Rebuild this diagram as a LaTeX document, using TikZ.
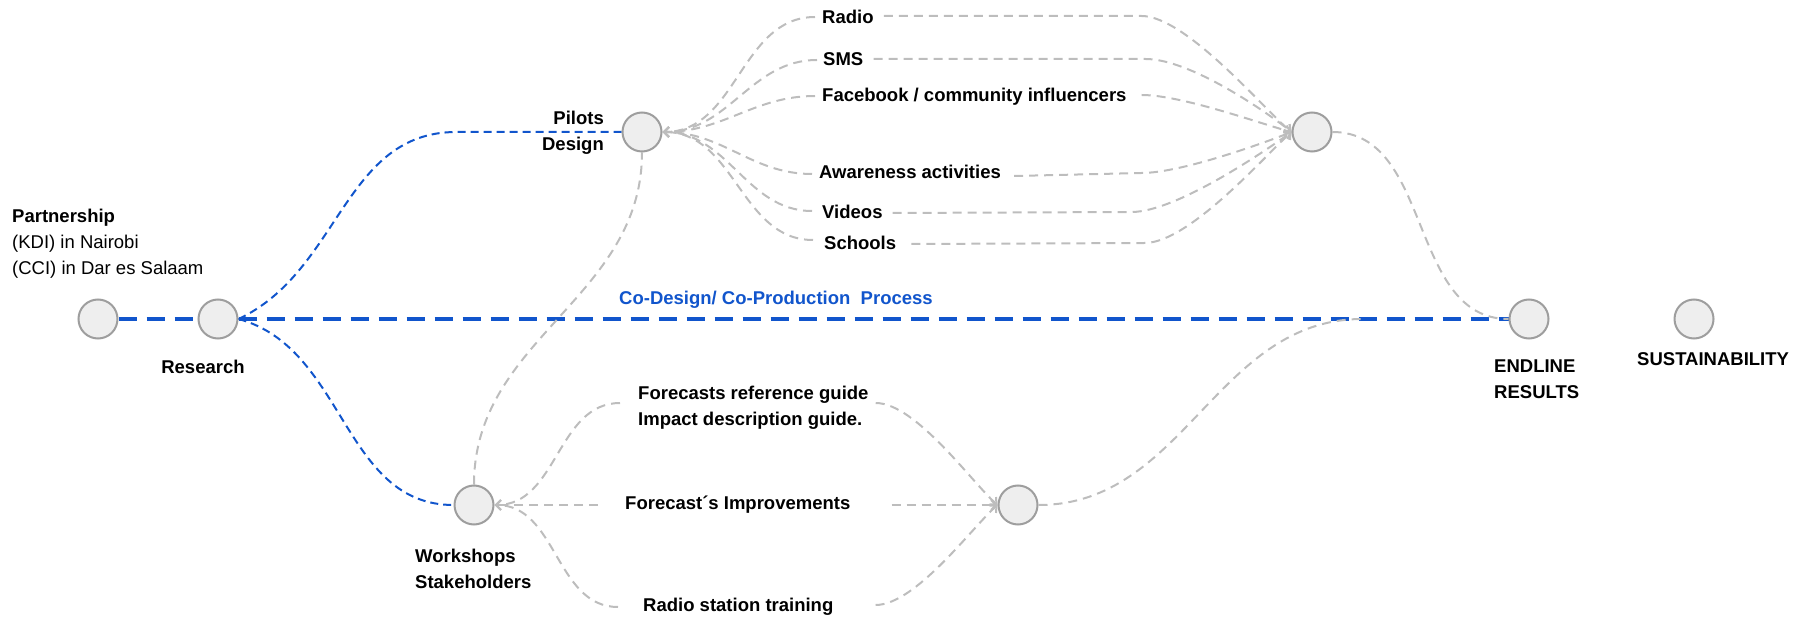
\documentclass[tikz,border=0pt]{standalone}
\usepackage{fontspec}
\setmainfont{Liberation Sans}
\usetikzlibrary{arrows.meta,calc,backgrounds}
\definecolor{gblue}{HTML}{1155CC}
\definecolor{lgray}{HTML}{BDBDBD}
\definecolor{cgray}{HTML}{9E9E9E}
\definecolor{cfill}{HTML}{EEEEEE}
\tikzset{
  stage/.style={circle, draw=cgray, fill=cfill, line width=2pt, minimum size=39pt, inner sep=0pt},
  lbl/.style={font=\fontsize{18.5}{26}\selectfont\bfseries, inner sep=0pt, text height=13.3pt, text depth=0pt},
  mlbl/.style={font=\fontsize{18.5}{26}\selectfont\bfseries, inner sep=0pt},
  gline/.style={draw=lgray, line width=2pt, dash pattern=on 9pt off 6pt},
  garrow/.style={gline, -{Straight Barb[length=5pt,width=10pt]}},
  bthick/.style={draw=gblue, line width=4pt, dash pattern=on 18pt off 10pt},
  bthin/.style={draw=gblue, line width=2pt, dash pattern=on 8pt off 5pt},
}
\begin{document}
\begin{tikzpicture}[x=1pt,y=-1pt]
\useasboundingbox (0,0) rectangle (1796,617);
% stages
\node[stage] (p0) at (98,319) {};
\node[stage] (rs) at (218,319) {};
\node[stage] (pd) at (642,132) {};
\node[stage] (tr) at (1312,132) {};
\node[stage] (ws) at (474,505) {};
\node[stage] (br) at (1018,505) {};
\node[stage] (en) at (1529,319) {};
\node[stage] (su) at (1694,319) {};
% stage labels
\node[anchor=north west, align=left, inner sep=0pt, font=\fontsize{18.5}{26}\selectfont] (part) at (12,209) {\textbf{Partnership}\\(KDI) in Nairobi\\(CCI) in Dar es Salaam};
\node[lbl] (resl) at (203,367) {Research};
\node[mlbl, anchor=north east, align=right] (pdl) at (604,111) {Pilots\\Design};
\node[mlbl, anchor=north west, align=left] (wsl) at (415,549) {Workshops\\Stakeholders};
\node[mlbl, anchor=north west, align=left] (enl) at (1494,360) {ENDLINE\\RESULTS};
\node[lbl, anchor=west] (sul) at (1637,359) {SUSTAINABILITY};
\node[lbl, anchor=west, text=gblue] (cod) at (619,298) {Co-Design/ Co-Production\ \ Process};
% activity labels
\node[lbl, anchor=west] (radio) at (822,17) {Radio};
\node[lbl, anchor=west] (sms) at (823,59) {SMS};
\node[lbl, anchor=west] (fb) at (822,95) {Facebook / community influencers};
\node[lbl, anchor=west] (aw) at (819,172) {Awareness activities};
\node[lbl, anchor=west] (vid) at (822,212) {Videos};
\node[lbl, anchor=west] (sch) at (824,243) {Schools};
\node[mlbl, anchor=north west, align=left] (frg) at (638,386) {Forecasts reference guide\\Impact description guide.};
\node[lbl, anchor=west] (fi) at (625,503) {Forecast´s Improvements};
\node[lbl, anchor=west] (rst) at (643,605) {Radio station training};
% helper coordinates
\coordinate (mg) at ($(en.west)+(-146,0)$);
\coordinate (bx) at ($(tr.west)+(-150,0)$);
\begin{scope}[on background layer]
% blue process lines
\draw[bthick] (p0.east) -- (rs.west);
\draw[bthick] (rs.east) -- (en.west);
\draw[bthin] (rs.east) .. controls +(102,-48) and +(-113,0) .. ($(pd.west)+(-165,0)$) -- (pd.west);
\draw[bthin] (rs.east) .. controls +(107,29) and +(-111,0) .. (ws.west);
% gray links between stages
\draw[gline] (ws.north) .. controls +(0,-146) and +(0,146) .. (pd.south);
\draw[gline] (tr.east) to[out=0,in=180] (en.west);
\draw[gline] (br.east) to[out=0,in=180] (mg);
% top fan, left side
\draw[garrow] ($(radio.west)+(-7,0)$) to[out=180,in=0] (pd.east);
\draw[garrow] ($(sms.west)+(-6,1)$) to[out=180,in=0] (pd.east);
\draw[garrow] ($(fb.west)+(-7,1)$) to[out=180,in=0] (pd.east);
\draw[garrow] ($(aw.west)+(-7,2)$) to[out=180,in=0] (pd.east);
\draw[garrow] ($(vid.west)+(-10,-1)$) to[out=180,in=0] (pd.east);
\draw[garrow] ($(sch.west)+(-11,-3)$) to[out=180,in=0] (pd.east);
% top fan, right side
\draw[garrow] ($(radio.east)+(10,-1)$) -- ($(radio.east -| bx)+(0,-1)$) .. controls +(45,0) and +(-25,-20) .. (tr.west);
\draw[garrow] ($(sms.east)+(10,0)$) -- ($(sms.east -| bx)+(4,0)$) .. controls +(45,0) and +(-25,-20) .. (tr.west);
\draw[garrow] ($(fb.east)+(15,0)$) .. controls +(40,0) and +(-30,-8) .. (tr.west);
\draw[garrow] ($(aw.east)+(13,4)$) -- ($(aw.east -| bx)+(0,1)$) .. controls +(40,0) and +(-25,10) .. (tr.west);
\draw[garrow] ($(vid.east)+(10,1)$) -- ($(vid.east -| bx)+(-10,0)$) .. controls +(45,0) and +(-25,18) .. (tr.west);
\draw[garrow] ($(sch.east)+(15,1)$) -- ($(sch.east -| bx)+(3,0)$) .. controls +(45,0) and +(-25,22) .. (tr.west);
% bottom fan, left side
\draw[garrow] ($(frg.north west)+(-18,17)$) to[out=180,in=0] (ws.east);
\draw[garrow] ($(fi.west)+(-27,2)$) -- (ws.east);
\draw[garrow] ($(rst.west)+(-25,2)$) to[out=180,in=0] (ws.east);
% bottom fan, right side
\draw[garrow] ($(frg.north east)+(7,17)$) .. controls +(40,0) and +(-25,-22) .. (br.west);
\draw[garrow] ($(fi.east)+(41,2)$) -- (br.west);
\draw[garrow] ($(rst.east)+(42,0)$) .. controls +(40,0) and +(-25,22) .. (br.west);
\end{scope}
\end{tikzpicture}
\end{document}
